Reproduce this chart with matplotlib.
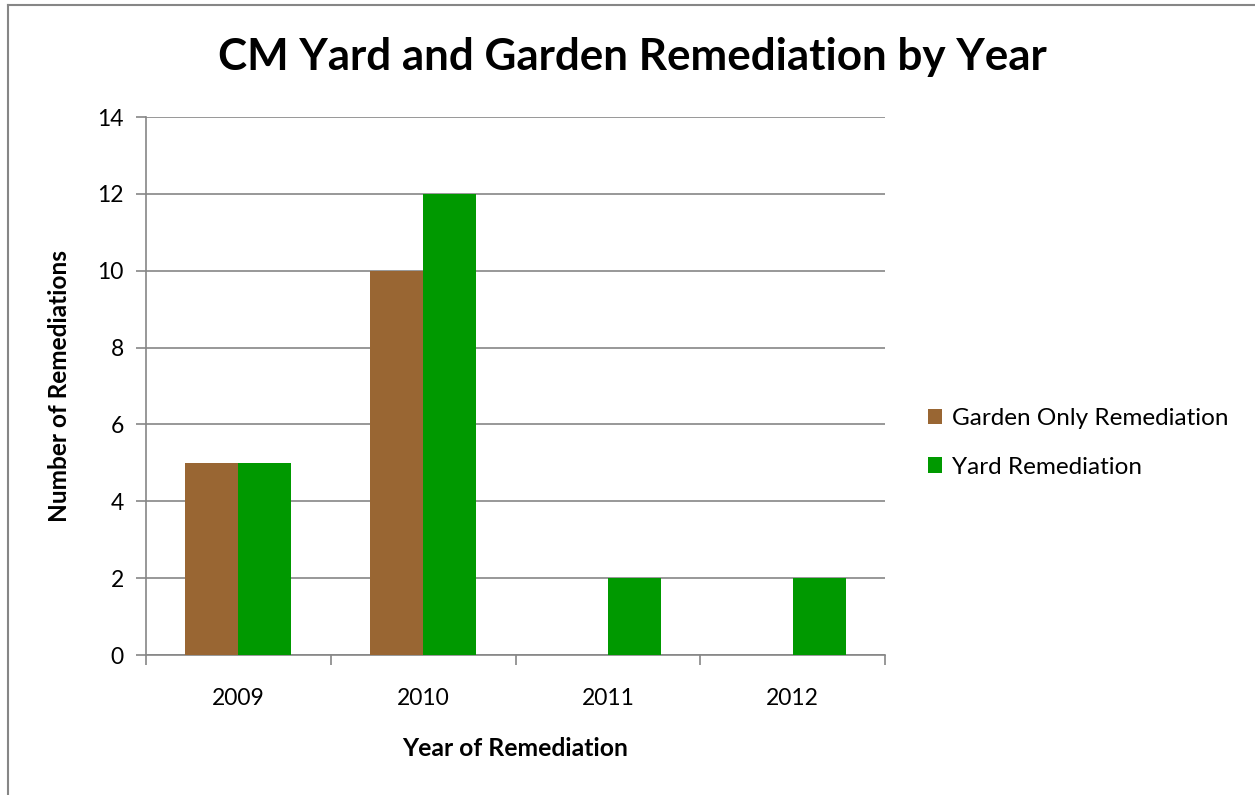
import matplotlib
matplotlib.use("Agg")
import matplotlib.pyplot as plt
import numpy as np
from matplotlib.lines import Line2D

years = ["2009", "2010", "2011", "2012"]
garden_only = [5, 10, 0, 0]
yard = [5, 12, 2, 2]
series_names = ["Garden Only Remediation", "Yard Remediation"]
colors = ["#996633", "#009900"]

plt.rcParams['font.family'] = ['Lato', 'DejaVu Sans']

W, H = 1255, 795
fig = plt.figure(figsize=(W / 100, H / 100), dpi=100)
ax = fig.add_axes([146 / W, 1 - 655 / H, (885 - 146) / W, (655 - 117) / H])

x = np.arange(len(years))
bw = 0.2865
b1 = ax.bar(x - bw / 2, garden_only, bw, color=colors[0], label=series_names[0], zorder=3)
b2 = ax.bar(x + bw / 2, yard, bw, color=colors[1], label=series_names[1], zorder=3)

ax.set_xlim(-0.5, len(years) - 0.5)
ax.set_ylim(0, 14)
ax.set_yticks(range(0, 15, 2))
ax.yaxis.grid(True, color="#868686", linewidth=1.2, zorder=0)
ax.set_axisbelow(True)
for s in ["top", "right"]:
    ax.spines[s].set_visible(False)
for s in ["left", "bottom"]:
    ax.spines[s].set_color("#868686")
    ax.spines[s].set_linewidth(1.2)

ax.set_xticks(np.arange(-0.5, len(years), 1.0))
ax.set_xticklabels([])
ax.set_xticks(x, minor=True)
ax.set_xticklabels(years, minor=True)
ax.tick_params(axis="x", which="major", length=7, width=1.2, color="#868686", direction="out")
ax.tick_params(axis="x", which="minor", length=0, pad=24, labelsize=16.5)
ax.tick_params(axis="y", length=7, width=1.2, color="#868686", direction="out", labelsize=16.5, pad=9)

fig.text(632 / W, 1 - 57 / H, "CM Yard and Garden Remediation by Year",
         ha="center", va="center", fontsize=31.7, fontweight="bold")
fig.text(515 / W, 1 - 749 / H, "Year of Remediation", ha="center", va="center",
         fontsize=17.8, fontweight="bold")
fig.text(60 / W, 1 - 386 / H, "Number of Remediations", ha="center", va="center",
         fontsize=17.6, fontweight="bold", rotation=90)

fig.legend(handles=[b1, b2], loc="center left", bbox_to_anchor=(916 / W, 1 - 443 / H),
           frameon=False, fontsize=17.5, handlelength=0.58, handleheight=0.58,
           handletextpad=0.4, labelspacing=1.12, borderpad=0)

fig.add_artist(Line2D([7.5 / W, 1], [1 - 4.5 / H, 1 - 4.5 / H], color="#868686", linewidth=1.5,
                      transform=fig.transFigure))
fig.add_artist(Line2D([7.5 / W, 7.5 / W], [0, 1 - 4.5 / H], color="#868686", linewidth=1.5,
                      transform=fig.transFigure))

fig.savefig("out.png", dpi=100)
